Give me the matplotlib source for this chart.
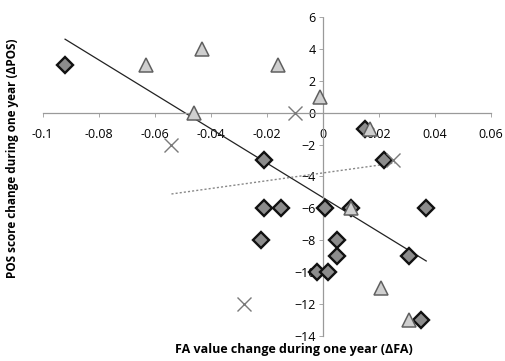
import numpy as np
import matplotlib.pyplot as plt

# group 1 (diamonds)
fa_d = [-0.092, -0.021, 0.015, 0.022, -0.021, -0.015, 0.001, 0.010, 0.037,
        -0.022, 0.005, 0.005, -0.002, 0.002, 0.031, 0.035]
pos_d = [3, -3, -1, -3, -6, -6, -6, -6, -6, -8, -8, -9, -10, -10, -9, -13]

# group 2 (triangles)
fa_t = [-0.063, -0.043, -0.046, -0.016, -0.001, 0.017, 0.010, 0.021, 0.031]
pos_t = [3, 4, 0, 3, 1, -1, -6, -11, -13]

# group 3 (crosses)
fa_x = [-0.054, -0.010, 0.025, -0.028]
pos_x = [-2, 0, -3, -12]

# trend line end points
trend_d_x = [-0.092, 0.037]
trend_d_y = [4.6, -9.3]
trend_x_x = [-0.054, 0.026]
trend_x_y = [-5.1, -3.15]

x_ticks = [-0.1, -0.08, -0.06, -0.04, -0.02, 0, 0.02, 0.04, 0.06]
x_tick_labels = ['-0.1', '-0.08', '-0.06', '-0.04', '-0.02', '0', '0.02', '0.04', '0.06']
y_ticks = [-14, -12, -10, -8, -6, -4, -2, 0, 2, 4, 6]

plt.rcParams['font.family'] = ['Open Sans', 'DejaVu Sans']

fig = plt.figure(figsize=(5.05, 3.61), dpi=100)
ax = fig.add_axes([0.0845, 0.0693, 0.887, 0.884])

# axes cross at the origin, drawn dotted
for side in ['top', 'right']:
    ax.spines[side].set_visible(False)
for side in ['left', 'bottom']:
    ax.spines[side].set_position(('data', 0))
    ax.spines[side].set_linestyle((0, (1, 1)))
    ax.spines[side].set_color('#9a9a9a')
    ax.spines[side].set_linewidth(0.9)

ax.set_xlim(-0.1, 0.06)
ax.set_ylim(-14, 6)
ax.set_xticks(x_ticks)
ax.set_xticklabels(x_tick_labels)
ax.set_yticks(y_ticks)
ax.tick_params(axis='both', length=3, width=0.6, color='#9a9a9a', labelsize=9, pad=2)
ax.tick_params(axis='x', pad=8)

ax.plot(trend_d_x, trend_d_y, color='#222222', lw=0.9, zorder=2)
ax.plot(trend_x_x, trend_x_y, color='#888888', lw=1.0, ls=(0, (1.5, 1.5)), zorder=2)

ax.plot(fa_d, pos_d, ls='none', marker='D', ms=8, mfc='#8c8c8c', mec='#111111', mew=1.7, zorder=3)
ax.plot(fa_t, pos_t, ls='none', marker='^', ms=10.5, mfc='#cfcfcf', mec='#606060', mew=1.1, zorder=4)
ax.plot(fa_x, pos_x, ls='none', marker='x', ms=10, mec='#7a7a7a', mew=1.0, zorder=4)

ax.set_xlabel('FA value change during one year (ΔFA)', fontsize=9, fontweight='bold')
ax.xaxis.set_label_coords(0.561, -0.022)
ax.set_ylabel('POS score change during one year (ΔPOS)', fontsize=8.5, fontweight='bold')
ax.yaxis.set_label_coords(-0.053, 0.558)

fig.savefig('out.png', dpi=100)
